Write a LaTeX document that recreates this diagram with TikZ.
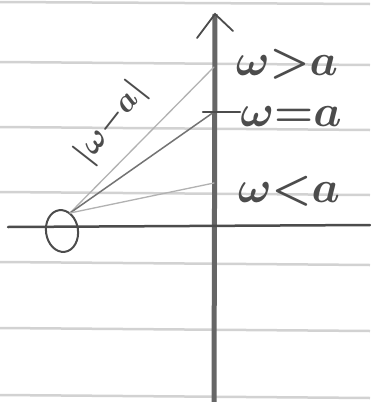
\documentclass[tikz,border=0pt]{standalone}
\usepackage{amsmath}
\usetikzlibrary{calc, positioning}
\usetikzlibrary{arrows.meta}
\usetikzlibrary{shapes.geometric}

\tikzset{
  ruled/.style={line width=2.5pt, gray!35},
  pencil/.style={line width=2pt, black!70, line cap=round},
  faint/.style={line width=1.3pt, black!30, line cap=round},
  hand/.style={black!70, font=\Huge\boldmath, inner sep=0pt,
    scale=1.8, transform shape}
}

\begin{document}
\begin{tikzpicture}[x=1pt, y=-1pt]
\useasboundingbox (0,0) rectangle (370,402);
\fill[white] (0,0) rectangle (370,402);
% paper lines
\foreach \yy/\dy in {2/2, 62/3, 127/3, 192/3, 262/3, 328/3, 395/3}
  \draw[ruled] (0,\yy) -- (370,\yy+\dy);

\coordinate (O) at (215,228);
\coordinate (Top) at (215,14);
\coordinate (Bot) at (214,402);
\coordinate (Left) at (8,227);
\coordinate (Right) at (370,225);
\coordinate (Src) at (70,213);
\coordinate (PGt) at (214,67);
\coordinate (PEq) at (214,112);
\coordinate (PLt) at (214,183);

% axes
\draw[line width=5pt, black!60] (Bot) -- (Top);
\draw[pencil, line width=1.8pt] (197,38) -- (Top) -- (233,31);
\draw[pencil, line width=2.5pt] (Left) -- (Right);

% pole
\node[draw, pencil, ellipse, minimum width=32pt, minimum height=42pt,
      inner sep=0pt, rotate=8] (pole) at (62,231) {};

% rays
\draw[faint] (Src) -- (PGt);
\draw[pencil, line width=1.5pt, black!55] (Src) -- (PEq);
\draw[faint] (Src) -- (PLt);
\draw[pencil, line width=2.2pt] (203,112) -- (240,112);

% labels
\node[hand] (gt) at (287,64) {$\omega{>}a$};
\node[hand] (eq) at (291,117) {$\omega{=}a$};
\node[hand] (lt) at (289,191) {$\omega{<}a$};
\node[hand, rotate=52, scale=0.72] (dist) at (111,123) {$|\omega{-}a|$};
\end{tikzpicture}
\end{document}
